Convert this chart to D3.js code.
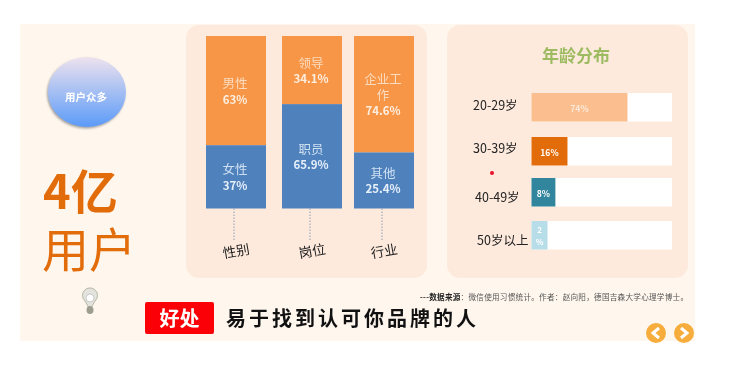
<!DOCTYPE html>
<html>
<head>
<meta charset="utf-8">
<script src="https://cdn.jsdelivr.net/npm/d3@7"></script>
<style>
html, body { margin: 0; padding: 0; background: #fff; }
svg { display: block; filter: blur(0.35px); }
text { font-family: "Noto Sans CJK SC", "Noto Sans", sans-serif; }
</style>
</head>
<body>
<div id="chart"></div>
<script>
// stacked columns: printed labels, plus the share each segment is actually drawn at
const stackCats = ["性别", "岗位", "行业"];
const lowerNames = ["女性", "职员", "其他"];
const lowerValues = ["37%", "65.9%", "25.4%"];
const lowerDrawn = [36.7, 60.5, 32.5];
const upperNames = [["男性"], ["领导"], ["企业工", "作"]];
const upperValues = ["63%", "34.1%", "74.6%"];

// age bars: the drawn length is not proportional to the printed label in the source
const ageCats = ["20-29岁", "30-39岁", "40-49岁", "50岁以上"];
const ageLabels = ["74%", "16%", "8%", "2%"];
const ageDrawn = [68.3, 25.6, 17, 11.4];
const ageColors = ["#fbbe8e", "#e36c0a", "#31859c", "#b7dde8"];

const W = 729, H = 367;
const svg = d3.select("#chart").append("svg").attr("width", W).attr("height", H);
const defs = svg.append("defs");

const grad = defs.append("linearGradient").attr("id", "ball").attr("x1", 0).attr("y1", 0).attr("x2", 0).attr("y2", 1);
grad.append("stop").attr("offset", "0%").attr("stop-color", "#eee2ee");
grad.append("stop").attr("offset", "100%").attr("stop-color", "#5b9bf8");
const shadow = defs.append("filter").attr("id", "soft").attr("x", "-20%").attr("y", "-20%").attr("width", "140%").attr("height", "140%");
shadow.append("feDropShadow").attr("dx", -1).attr("dy", 1.5).attr("stdDeviation", 1.2).attr("flood-color", "#777").attr("flood-opacity", 0.7);

function label(g, x, y, str, size, fill, opts = {}) {
    return g.append("text").attr("x", x).attr("y", y).attr("text-anchor", opts.anchor || "middle")
        .attr("dominant-baseline", "central").attr("font-size", size).attr("fill", fill)
        .attr("font-weight", opts.weight || 400).text(str);
}

// page + panels
svg.append("rect").attr("x", 20).attr("y", 24).attr("width", 675).attr("height", 317).attr("fill", "#fff7ee");
svg.selectAll(".panel").data([186, 447]).join("rect").attr("class", "panel")
    .attr("x", d => d).attr("y", 25).attr("width", 241).attr("height", 253).attr("rx", 13).attr("fill", "#fdeadd");

// left side
const left = svg.append("g");
left.append("ellipse").attr("cx", 87).attr("cy", 92).attr("rx", 39).attr("ry", 35)
    .attr("fill", "url(#ball)").attr("filter", "url(#soft)");
label(left, 86, 96, "用户众多", 10.5, "#fff", { weight: 700 });
label(left, 43, 188, "4亿", 47, "#e36c0a", { anchor: "start", weight: 700 });
label(left, 42, 246, "用户", 47, "#e36c0a", { anchor: "start" });

// little pin
const pin = left.append("g").attr("transform", "translate(90,303)");
pin.append("path").attr("d", "M-5,-2 A7.5,7.5 0 1 1 5,-2 L1,5 L-1,5 Z").attr("fill", "#e4e4de").attr("stroke", "#b5b5a8");
pin.append("circle").attr("cy", -5).attr("r", 4).attr("fill", "#fff").attr("stroke", "#aaa").attr("stroke-width", 0.6);
pin.append("ellipse").attr("cy", 7).attr("rx", 3.5).attr("ry", 4).attr("fill", "#9d9d8f");

// stacked columns
const y = d3.scaleLinear().domain([0, 100]).range([208.5, 36]);
const xStack = d3.scaleOrdinal().domain(stackCats).range([206, 282, 354]);
const colW = 60;
const cols = svg.selectAll(".col").data(stackCats).join("g").attr("class", "col")
    .attr("transform", d => `translate(${xStack(d)},0)`);
cols.append("rect").attr("width", colW).attr("y", y(100)).attr("height", (d, i) => y(lowerDrawn[i]) - y(100)).attr("fill", "#f79646");
cols.append("rect").attr("width", colW).attr("y", (d, i) => y(lowerDrawn[i])).attr("height", (d, i) => y(0) - y(lowerDrawn[i])).attr("fill", "#4f81bd");
cols.append("line").attr("x1", colW / 2 - 2).attr("x2", colW / 2 - 2).attr("y1", y(0)).attr("y2", 241)
    .attr("stroke", "#8f9db5").attr("stroke-dasharray", "1.5 1.5");
cols.each(function (d, i) {
    const g = d3.select(this), cx = colW / 2 - 1;
    const mid = (y(100) + y(lowerDrawn[i])) / 2, lowMid = (y(lowerDrawn[i]) + y(0)) / 2;
    const names = upperNames[i], top = mid - 8 - (names.length - 1) * 8;
    names.forEach((n, k) => label(g, cx, top + k * 16, n, 12.5, "#fbdcc0"));
    label(g, cx, top + names.length * 16, upperValues[i], 11.5, "#fdeee0", { weight: 700 });
    label(g, cx, lowMid - 8, lowerNames[i], 12.5, "#cfe0f2");
    label(g, cx, lowMid + 8, lowerValues[i], 11.5, "#e6f0fa", { weight: 700 });
    g.append("text").attr("transform", `translate(${colW / 2},250) rotate(-10)`).attr("text-anchor", "middle")
        .attr("dominant-baseline", "central").attr("font-size", 13.5).attr("fill", "#222").text(d);
});

// age panel
label(svg, 576, 54, "年龄分布", 17, "#9dbb61", { weight: 700 });
const xAge = d3.scaleLinear().domain([0, 100]).range([531.5, 672]);
const yAge = d3.scaleOrdinal().domain(ageCats).range([93, 137, 178, 221]);
const ageLabelX = [473, 473, 475, 477], ageLabelY = [104, 147, 196, 239];
const rowH = 28.5;
const rows = svg.selectAll(".age").data(ageCats).join("g").attr("class", "age");
rows.append("rect").attr("x", xAge(0)).attr("y", d => yAge(d)).attr("width", xAge(100) - xAge(0)).attr("height", rowH).attr("fill", "#fff");
rows.append("rect").attr("x", xAge(0)).attr("y", d => yAge(d)).attr("width", (d, i) => xAge(ageDrawn[i]) - xAge(0)).attr("height", rowH)
    .attr("fill", (d, i) => ageColors[i]);
rows.each(function (d, i) {
    const g = d3.select(this), cx = (xAge(0) + xAge(ageDrawn[i])) / 2, cy = yAge(d) + rowH / 2;
    if (i < 3) label(g, cx, cy + 0.5, ageLabels[i], 8.5, i ? "#fff" : "#fdeadd", { weight: 700 });
    else {
        // the 2% label wraps in its narrow bar
        label(g, cx, cy - 6, "2", 8, "#fff", { weight: 700 });
        label(g, cx, cy + 6, "%", 8, "#fff", { weight: 700 });
    }
    label(g, ageLabelX[i], ageLabelY[i], d, 12.5, "#222", { anchor: "start" });
});
svg.append("circle").attr("cx", 492).attr("cy", 173).attr("r", 2).attr("fill", "#e8112d");

// footer
const src = svg.append("text").attr("x", 420).attr("y", 296).attr("dominant-baseline", "central").attr("font-size", 7.6).attr("fill", "#555")
    .attr("textLength", 268).attr("lengthAdjust", "spacing");
src.append("tspan").attr("font-weight", 700).attr("fill", "#222").text("---数据来源");
src.append("tspan").text("：微信使用习惯统计。作者：赵向阳，德国吉森大学心理学博士。");

svg.append("rect").attr("x", 145).attr("y", 302).attr("width", 69).attr("height", 32).attr("rx", 2).attr("fill", "#fb0007");
label(svg, 179.5, 317.5, "好处", 20, "#fff", { weight: 700 });
label(svg, 226, 317.5, "易于找到认可你品牌的人", 20, "#111", { anchor: "start", weight: 700 })
    .attr("textLength", 250).attr("lengthAdjust", "spacing");

// prev / next buttons
const nav = svg.selectAll(".nav").data([-1, 1]).join("g").attr("class", "nav")
    .attr("transform", d => `translate(${d < 0 ? 656 : 684},333)`);
nav.append("circle").attr("r", 10).attr("fill", "#f6ad3c");
nav.append("path").attr("d", d => `M${-3 * d},-5 L${3 * d},0 L${-3 * d},5`).attr("fill", "none").attr("stroke", "#fff").attr("stroke-width", 3);
</script>
</body>
</html>
